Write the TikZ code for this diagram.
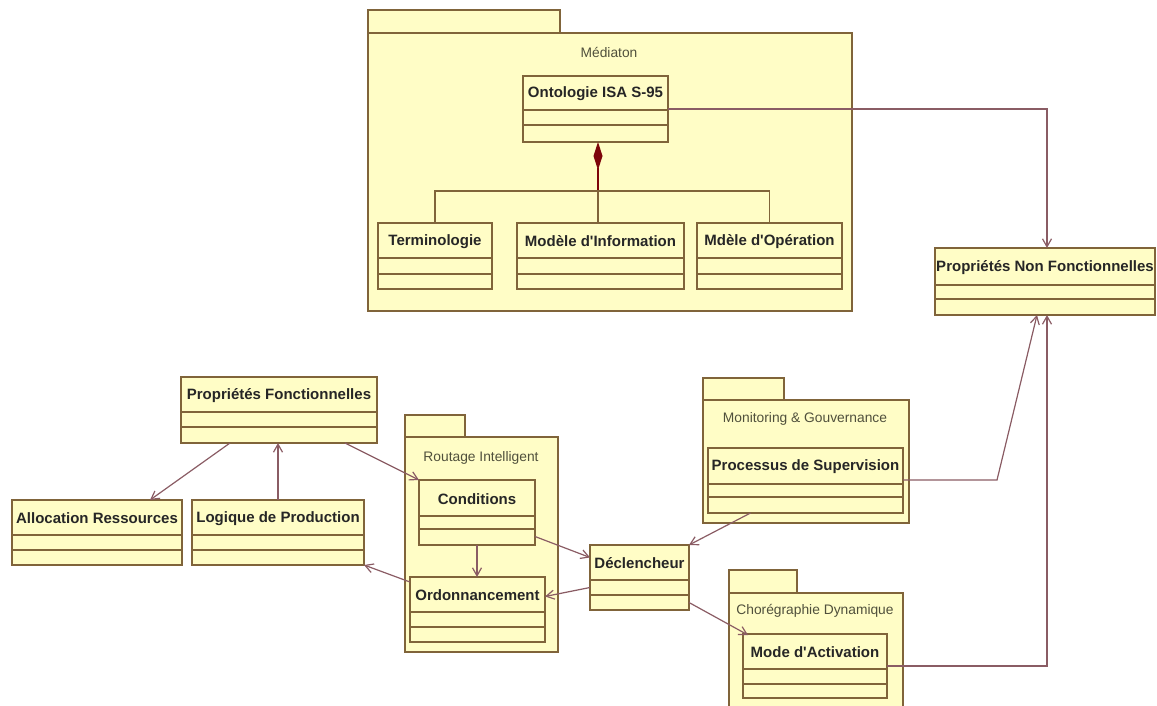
\documentclass[tikz,border=0pt]{standalone}
\usepackage{fontspec}
\setmainfont{Liberation Sans}[Ligatures=TeXOff]
\usetikzlibrary{arrows.meta,calc}
\definecolor{umlfill}{RGB}{255,253,198}
\definecolor{umlborder}{RGB}{128,100,58}
\definecolor{umllink}{RGB}{138,92,100}
\definecolor{umlcomp}{RGB}{125,5,10}
\definecolor{pkgtext}{RGB}{80,80,60}
\tikzset{
  clsbox/.style={draw=umlborder, fill=umlfill, line width=1.3pt, inner sep=0pt, outer sep=0pt},
  clsline/.style={draw=umlborder, line width=1.3pt},
  clstitle/.style={font=\fontsize{15}{17}\selectfont\bfseries, text=black!85, inner sep=0pt},
  pkgbox/.style={draw=umlborder, fill=umlfill, line width=1.3pt},
  pkglabel/.style={font=\fontsize{13.8}{16}\selectfont, text=pkgtext, inner sep=0pt},
  link/.style={draw=umllink, line width=1.2pt, -{Straight Barb[length=8pt,width=9pt]}},
  plainlink/.style={draw=umlborder, line width=1.2pt},
  comp/.style={draw=umlcomp, line width=1.2pt, {Diamond[length=28pt,width=9pt,fill=umlcomp]}-}
}
% name, x1, y1, x2, y2, divider1, divider2, title
\newcommand{\umlcls}[8]{%
  \node[clsbox, minimum width={#4-#2}, minimum height={#5-#3}] (#1) at ({(#2+#4)/2},{(#3+#5)/2}) {};
  \draw[clsline] (#2,#6) -- (#4,#6);
  \draw[clsline] (#2,#7) -- (#4,#7);
  \node[clstitle] (#1-t) at ({(#2+#4)/2},{(#3+#6)/2+1}) {#8};
}
% name, tab x2, x1, ytab, y1, x2, y2, label x, label y
\newcommand{\umlpkg}[9]{%
  \draw[pkgbox] (#3,#4) rectangle (#2,#5);
  \draw[pkgbox] (#3,#5) rectangle (#6,#7);
  \node[pkglabel] (#1) at (#8,#9) {};
}
\begin{document}
\begin{tikzpicture}[x=1pt,y=-1pt]
\useasboundingbox (0,0) rectangle (1157,706);
\begin{scope}
\clip (0,0) rectangle (1157,706);
% packages
\umlpkg{pmed}{560}{368}{10}{33}{852}{311}{609}{52}
\node[pkglabel] at (pmed) {Médiaton};
\umlpkg{prout}{465}{405}{415}{437}{558}{652}{481}{458}
\node[pkglabel] at (prout) {Routage Intelligent};
\umlpkg{pmon}{784}{703}{378}{400}{909}{523}{805}{419}
\node[pkglabel] at (pmon) {Monitoring \& Gouvernance};
\umlpkg{pcho}{797}{729}{570}{593}{903}{716}{815}{611}
\node[pkglabel] at (pcho) {Chorégraphie Dynamique};

% classes
\umlcls{ont}{523}{76}{668}{142}{110}{125}{Ontologie ISA S-95}
\umlcls{term}{378}{223}{492}{289}{258}{274}{Terminologie}
\umlcls{minfo}{517}{223}{684}{289}{258}{274}{Modèle d'Information}
\umlcls{mop}{697}{223}{842}{289}{258}{274}{Mdèle d'Opération}
\umlcls{pnf}{935}{248}{1155}{315}{285}{299}{Propriétés Non Fonctionnelles}
\umlcls{pf}{181}{377}{377}{443}{412}{427}{Propriétés Fonctionnelles}
\umlcls{alloc}{12}{500}{182}{565}{535}{550}{Allocation Ressources}
\umlcls{logi}{192}{500}{364}{565}{535}{550}{Logique de Production}
\umlcls{cond}{419}{480}{535}{545}{516}{529}{Conditions}
\umlcls{ord}{410}{577}{545}{642}{612}{627}{Ordonnancement}
\umlcls{decl}{590}{545}{689}{610}{580}{595}{Déclencheur}
\umlcls{proc}{708}{448}{903}{513}{484}{497}{Processus de Supervision}
\umlcls{mode}{743}{634}{887}{698}{669}{684}{Mode d'Activation}

% composition tree
\coordinate (bus) at (598,191);
\draw[comp] ([xshift=2.5pt]ont.south) -- ([xshift=2.5pt]ont.south |- bus);
\draw[plainlink] (term.north) |- (bus) -| (mop.north);
\draw[plainlink] (bus) -- (bus |- minfo.north);

% connectors
\draw[link] (ont.east) -| ([xshift=2pt]pnf.north);
\coordinate (pbend) at (997,480);
\draw[link] (proc.east |- pbend) -- (pbend) -- ([xshift=-8pt]pnf.south);
\draw[link] (mode.east) -| ([xshift=2pt]pnf.south);
\draw[link] ([xshift=-55pt]proc.south) -- (decl.north east);
\draw[link] ([yshift=-25pt]decl.east) -- ([xshift=5pt,yshift=-1pt]mode.north west);
\draw[link] ([yshift=-24pt]cond.east) -- ([yshift=20pt]decl.west);
\draw[link] ([yshift=-10pt]decl.west) -- ([yshift=13pt]ord.east);
\draw[link] (cond.south) -- (cond.south |- ord.north);
\draw[link] ([xshift=66pt]pf.south) -- (cond.north west);
\draw[link] ([xshift=-49pt]pf.south) -- ([xshift=53pt]alloc.north);
\draw[link] (logi.north) -- (logi.north |- pf.south);
\draw[link] ([yshift=-5pt]ord.north west) -- (logi.south east);
\end{scope}
\end{tikzpicture}
\end{document}
